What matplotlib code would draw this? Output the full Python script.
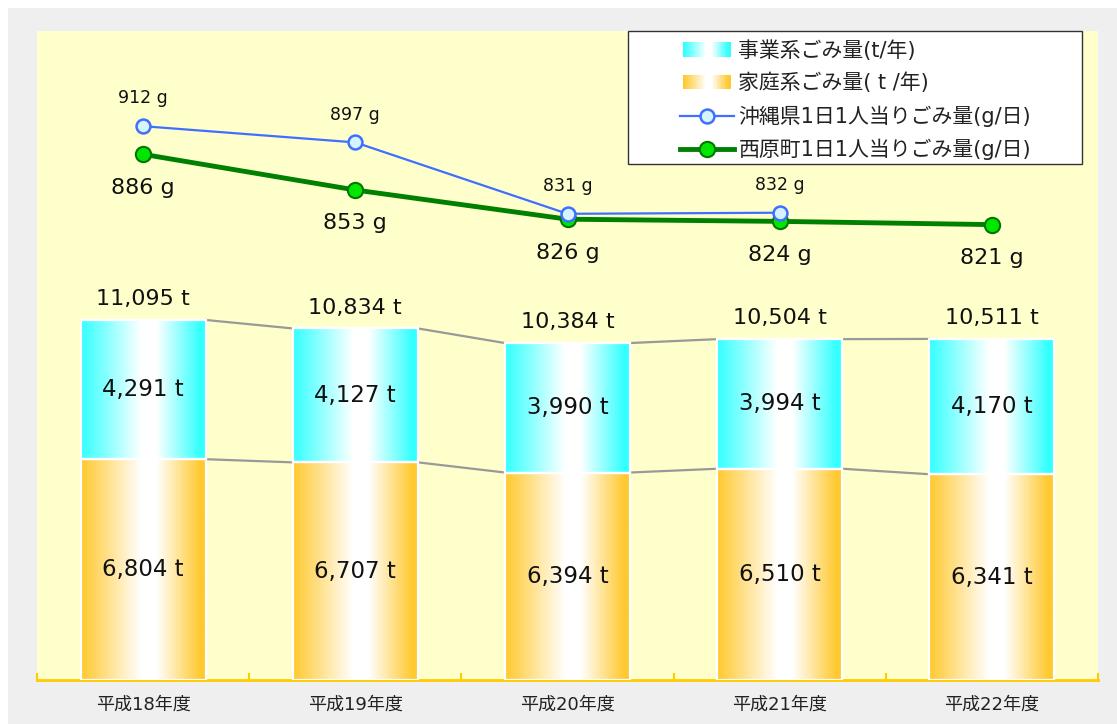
import numpy as np
import matplotlib
matplotlib.use('Agg')
import matplotlib.pyplot as plt
from matplotlib.patches import Rectangle
from matplotlib.lines import Line2D
from matplotlib.legend_handler import HandlerBase
from matplotlib.colors import to_rgb

# latin/digits from DejaVu (wide digits like the original), kanji from Noto CJK
plt.rcParams['font.family'] = ['DejaVu Sans', 'Noto Sans CJK JP']

# data
years = ['平成18年度', '平成19年度', '平成20年度', '平成21年度', '平成22年度']
business = [4291, 4127, 3990, 3994, 4170]      # 事業系 (t/年)
household = [6804, 6707, 6394, 6510, 6341]     # 家庭系 (t/年)
totals = [11095, 10834, 10384, 10504, 10511]
okinawa = [912, 897, 831, 832, np.nan]         # 沖縄県 g/日
nishihara = [886, 853, 826, 824, 821]          # 西原町 g/日

CYAN = '#33ffff'
ORANGE = '#ffc930'
YELLOW_BG = '#ffffcc'
GRAY_BG = '#efefef'


def grad_rgb(color, n=200):
    """colour at both edges, white a bit right of the middle"""
    t = np.linspace(0, 1, n)
    left = np.clip((0.48 - t) / 0.48, 0, 1)
    right = np.clip((t - 0.60) / 0.35, 0, 1)
    w = np.maximum(left, right)
    c = np.array(to_rgb(color))
    return 1 + (c - 1) * w[:, None]


class GradHandler(HandlerBase):
    def __init__(self, color):
        super().__init__()
        self.color = color

    def create_artists(self, legend, orig_handle, xdescent, ydescent,
                       width, height, fontsize, trans):
        cols = grad_rgb(self.color, 30)
        x0 = -xdescent + width * 0.06
        w = width * 0.88
        arts = []
        for k, c in enumerate(cols):
            arts.append(Rectangle((x0 + w * k / 30, -ydescent), w / 30 + 0.3, height,
                                  facecolor=c, edgecolor='none', transform=trans))
        return arts


fig = plt.figure(figsize=(11.17, 7.24), dpi=100, facecolor='white')
fig.patches.append(Rectangle((8 / 1117, 0), 1, 1 - 8 / 724, facecolor=GRAY_BG,
                             edgecolor='none', transform=fig.transFigure, zorder=-10))

ax = fig.add_axes([37 / 1117, 44 / 724, 1061 / 1117, 649 / 724])
ax.set_facecolor(YELLOW_BG)
x = np.arange(len(years))
bw = 0.59

b1 = ax.bar(x, household, bw, facecolor='none', edgecolor='white', lw=1.6, zorder=3)
b2 = ax.bar(x, business, bw, bottom=household, facecolor='none', edgecolor='white',
            lw=1.6, zorder=3)

# gradient fills
for bars, col in ((b1, ORANGE), (b2, CYAN)):
    g = grad_rgb(col)[None, :, :]
    for p in bars:
        ax.imshow(g, extent=(p.get_x(), p.get_x() + p.get_width(),
                             p.get_y(), p.get_y() + p.get_height()),
                  aspect='auto', interpolation='bilinear', zorder=2)

# gray connectors between bars
for i in range(len(x) - 1):
    r = b2[i].get_x() + bw
    l = b2[i + 1].get_x()
    ax.plot([r, l], [totals[i], totals[i + 1]], color='#999999', lw=1.6, zorder=1)
    ax.plot([r, l], [household[i], household[i + 1]], color='#999999', lw=1.6, zorder=1)

for i in x:
    ax.annotate(f'{totals[i]:,} t', (x[i], totals[i]), xytext=(0, 15),
                textcoords='offset points', ha='center', va='center', fontsize=16,
                color='#111111', zorder=5)
    ax.text(x[i], household[i] + business[i] / 2, f'{business[i]:,} t',
            ha='center', va='center', fontsize=16.5, color='#111111', zorder=5)
    ax.text(x[i], household[i] / 2, f'{household[i]:,} t',
            ha='center', va='center', fontsize=16.5, color='#111111', zorder=5)

ax.set_xlim(-0.5, len(x) - 0.5)
ax.set_ylim(0, 20000)
ax.set_yticks([])
for s in ('left', 'right', 'top'):
    ax.spines[s].set_visible(False)
ax.spines['bottom'].set_color('#ffcc00')
ax.spines['bottom'].set_linewidth(2)
ax.set_xticks(x, years)
ax.tick_params(axis='x', length=0, pad=11, labelsize=13, labelcolor='#222222')
ax.set_xticks(np.arange(-0.5, len(x)), minor=True)
ax.tick_params(axis='x', which='minor', direction='in', length=5, width=1.5,
               color='#ffcc00')

# per-person lines
ax2 = ax.twinx()
ax2.set_ylim(400, 1000)
ax2.set_yticks([])
for s in ax2.spines.values():
    s.set_visible(False)
ax2.plot(x, nishihara, color='#008000', lw=3.5, marker='o', ms=11,
         mfc='#00e600', mec='#007700', mew=1.5, zorder=3)
ax2.plot(x, okinawa, color='#3f6fff', lw=1.6, marker='o', ms=10,
         mfc='#d6f4ff', mec='#3f6fff', mew=1.8, zorder=4)
for i in x:
    if not np.isnan(okinawa[i]):
        ax2.annotate(f'{okinawa[i]:.0f} g', (x[i], okinawa[i]), xytext=(0, 20),
                     textcoords='offset points', ha='center', va='center',
                     fontsize=12.5, color='#111111')
    ax2.annotate(f'{nishihara[i]} g', (x[i], nishihara[i]), xytext=(0, -24),
                 textcoords='offset points', ha='center', va='center', fontsize=16,
                 color='#111111')

# legend
fig.patches.append(Rectangle((628 / 1117, 1 - 164 / 724), 454 / 1117, 133 / 724,
                             facecolor='white', edgecolor='#333333', lw=1,
                             transform=fig.transFigure, zorder=5))
h_bus = Rectangle((0, 0), 1, 1)
h_home = Rectangle((0, 0), 1, 1)
h_ok = Line2D([], [], color='#3f6fff', lw=1.6, marker='o', ms=10,
              mfc='#d6f4ff', mec='#3f6fff', mew=1.8)
h_ni = Line2D([], [], color='#008000', lw=3.5, marker='o', ms=11,
              mfc='#00e600', mec='#007700', mew=1.5)
leg = fig.legend([h_bus, h_home, h_ok, h_ni],
                 ['事業系ごみ量(t/年)', '家庭系ごみ量( t /年)',
                  '沖縄県1日1人当りごみ量(g/日)', '西原町1日1人当りごみ量(g/日)'],
                 handler_map={h_bus: GradHandler(CYAN), h_home: GradHandler(ORANGE)},
                 loc='upper left', bbox_to_anchor=(680 / 1117, 1 - 40 / 724),
                 frameon=False, fontsize=15, handlelength=2.6, handletextpad=0.2,
                 labelspacing=0.58, borderpad=0, borderaxespad=0)
for t in leg.get_texts():
    t.set_color('#222222')
leg.set_zorder(6)

fig.savefig('out.png', dpi=100, facecolor=fig.get_facecolor())
